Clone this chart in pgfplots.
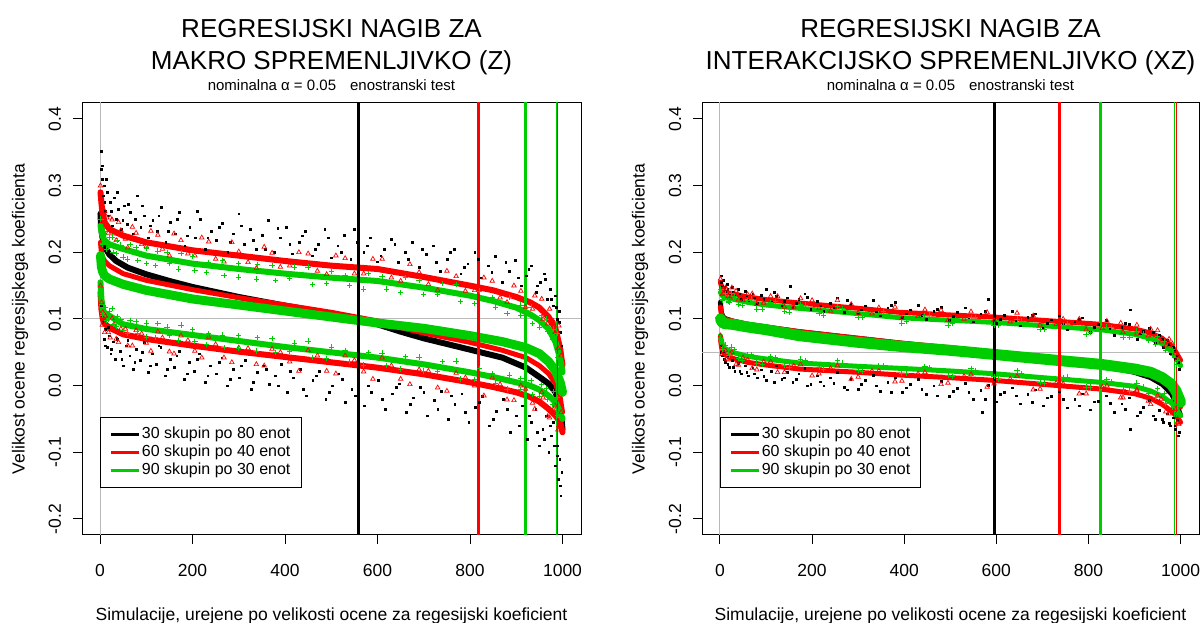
\documentclass[border=0pt]{standalone}
\usepackage{fontspec}
\setmainfont{Liberation Sans}
\usepackage{pgfplots}
\pgfplotsset{compat=1.18}
\definecolor{rred}{RGB}{255,0,0}
\definecolor{rgreen}{RGB}{0,205,0}
\definecolor{rgray}{RGB}{185,185,185}
\newcommand{\tickfont}{\fontsize{17.5}{20}\selectfont}
\pgfplotsset{
  panel/.style={
    scale only axis, height=432pt,
    xmin=-38.96, xmax=1039.96, ymin=-0.224, ymax=0.424,
    axis line style={black, line width=1pt},
    xtick={0,200,400,600,800,1000}, xticklabels={0,200,400,600,800,1000},
    ytick={-0.2,-0.1,0,0.1,0.2,0.3,0.4}, yticklabels={-0.2,-0.1,0.0,0.1,0.2,0.3,0.4},
    tick align=outside, tick pos=left, major tick length=9pt,
    tick style={black, line width=1pt},
    xticklabel style={font=\tickfont, anchor=base, yshift=-33pt},
    yticklabel style={font=\tickfont, xshift=-12pt, rotate=90, anchor=base},
    legend style={at={(0.036,0.109)}, anchor=south west, draw=black, line width=0.8pt,
      fill=white, font=\fontsize{16}{18}\selectfont, inner xsep=9pt, inner ysep=8pt,
      row sep=0pt, nodes={inner sep=1.5pt, text height=11.5pt, text depth=3.5pt},
      /tikz/every even column/.append style={column sep=9pt}},
    legend image code/.code={\draw[#1] (0pt,0pt) -- (28pt,0pt);},
    legend cell align=left,
  },
  bdot/.style={only marks, mark=square*, mark size=0.9pt, black, forget plot},
  rtri/.style={only marks, mark=triangle, mark size=2.6pt, rred, line width=0.7pt, forget plot},
  gplus/.style={only marks, mark=+, mark size=2.7pt, rgreen, line width=0.9pt, forget plot},
  core/.style={line join=round, line cap=round, forget plot},
  vline/.style={forget plot},
}
\begin{document}
\begin{tikzpicture}
\useasboundingbox (0,0) rectangle (1201pt,623pt);
% ================= LEFT PANEL =================
\begin{axis}[panel, width=499pt, at={(82pt,88pt)}, anchor=south west]
\addplot[rgray, line width=1pt, forget plot] coordinates {(0,-1) (0,1)};
\addplot[rgray, line width=1pt, forget plot] coordinates {(-100,0.1) (1100,0.1)};
% black upper
\addplot[bdot] coordinates {(2,0.352) (3,0.325) (5,0.31) (7,0.285) (9,0.3) (12,0.262) (15,0.29) (18,0.255) (22,0.275) (26,0.24) (30,0.282) (35,0.25) (40,0.265) (46,0.235) (52,0.27) (58,0.242) (65,0.26) (72,0.228) (80,0.285) (88,0.238) (96,0.255) (105,0.222) (114,0.248) (123,0.232) (132,0.268) (142,0.215) (152,0.245) (162,0.228) (172,0.26) (183,0.21) (194,0.238) (205,0.222) (216,0.25) (228,0.205) (240,0.232) (252,0.218) (264,0.244) (276,0.2) (288,0.228) (300,0.258) (312,0.212) (325,0.235) (338,0.205) (351,0.226) (364,0.248) (377,0.2) (390,0.222) (403,0.238) (416,0.198) (430,0.215) (444,0.232) (458,0.195) (472,0.212) (486,0.235) (500,0.192) (514,0.21) (528,0.226) (542,0.19) (556,0.215) (570,0.2) (585,0.222) (600,0.186) (615,0.205) (630,0.22) (645,0.185) (660,0.2) (675,0.215) (690,0.178) (705,0.197) (720,0.21) (735,0.172) (750,0.19) (765,0.205) (780,0.168) (795,0.183) (810,0.2) (825,0.162) (840,0.18) (855,0.194) (870,0.155) (885,0.172) (898,0.188) (910,0.15) (922,0.165) (933,0.18) (943,0.14) (952,0.155) (960,0.168) (967,0.13) (973,0.145) (979,0.12) (984,0.135) (988,0.1) (992,0.112) (995,0.08) (998,0.06)};
\addplot[bdot] coordinates {(4,0.33) (10,0.275) (14,0.31) (24,0.262) (37,0.29) (49,0.248) (61,0.272) (76,0.25) (92,0.27) (109,0.24) (127,0.255) (147,0.232) (167,0.25) (188,0.225) (210,0.262) (233,0.222) (258,0.238) (282,0.215) (306,0.24) (331,0.218) (357,0.205) (384,0.236) (410,0.212) (437,0.225) (465,0.205) (493,0.222) (521,0.2) (549,0.235) (577,0.21) (607,0.195) (637,0.212) (667,0.19) (697,0.205) (727,0.185) (757,0.2) (787,0.178) (817,0.19) (847,0.17) (877,0.185) (904,0.162) (927,0.175) (946,0.15) (963,0.16) (976,0.13) (986,0.118) (993,0.095)};
% black lower
\addplot[bdot] coordinates {(3,0.12) (6,0.095) (9,0.07) (12,0.085) (15,0.058) (19,0.075) (23,0.048) (28,0.066) (33,0.04) (38,0.07) (44,0.052) (50,0.03) (57,0.06) (64,0.045) (71,0.025) (79,0.055) (87,0.038) (95,0.065) (104,0.02) (113,0.048) (122,0.032) (131,0.058) (141,0.015) (151,0.04) (161,0.028) (171,0.052) (182,0.01) (193,0.035) (204,0.022) (215,0.048) (227,0.005) (239,0.03) (251,0.018) (263,0.042) (275,0.0) (288,0.025) (301,0.012) (314,0.038) (327,-0.005) (340,0.02) (353,0.03) (366,0.002) (379,0.015) (392,0.032) (405,-0.01) (418,0.012) (432,0.025) (446,-0.015) (460,0.008) (474,0.022) (488,-0.02) (502,0.0) (516,0.018) (530,-0.025) (544,-0.005) (558,0.012) (572,-0.03) (587,-0.01) (602,0.008) (617,-0.035) (632,-0.012) (647,0.003) (662,-0.04) (677,-0.018) (692,-0.002) (707,-0.045) (722,-0.022) (737,-0.008) (752,-0.05) (767,-0.028) (782,-0.012) (797,-0.055) (812,-0.032) (827,-0.016) (842,-0.06) (857,-0.038) (872,-0.02) (887,-0.07) (900,-0.045) (912,-0.03) (923,-0.08) (933,-0.055) (942,-0.035) (950,-0.09) (957,-0.065) (964,-0.045) (970,-0.1) (975,-0.075) (980,-0.055) (984,-0.12) (988,-0.09) (991,-0.14) (994,-0.11) (996,-0.165) (998,-0.13)};
\addplot[bdot] coordinates {(5,0.105) (11,0.06) (17,0.088) (25,0.055) (36,0.072) (47,0.04) (60,0.068) (75,0.035) (91,0.05) (108,0.03) (127,0.06) (146,0.025) (166,0.045) (188,0.018) (210,0.04) (233,0.015) (257,0.035) (281,0.01) (306,0.03) (332,0.005) (359,0.025) (386,0.0) (412,0.022) (439,-0.005) (467,0.015) (495,-0.01) (523,0.01) (551,-0.015) (580,0.0) (610,-0.02) (640,-0.002) (670,-0.028) (700,-0.01) (730,-0.035) (760,-0.015) (790,-0.04) (820,-0.025) (850,-0.05) (880,-0.035) (906,-0.06) (928,-0.045) (946,-0.07) (961,-0.08) (973,-0.06) (982,-0.09) (989,-0.105) (995,-0.15)};
% black estimate
\addplot[core, black, line width=6pt] coordinates {(1,0.258) (2,0.242) (4,0.228) (7,0.216) (12,0.206) (20,0.197) (35,0.187) (60,0.177) (100,0.167) (150,0.157) (200,0.148) (300,0.133) (400,0.12) (500,0.108) (600,0.092) (650,0.081) (700,0.071) (800,0.054) (870,0.042) (921,0.027) (950,0.013) (970,0.003) (985,-0.01) (993,-0.03) (998,-0.05) (1000,-0.066)};
% red bands
\addplot[core, rred, line width=6pt] coordinates {(1,0.29) (5,0.26) (10,0.245) (20,0.235) (50,0.225) (100,0.215) (200,0.203) (300,0.195) (400,0.187) (500,0.18) (600,0.175) (700,0.163) (800,0.15) (850,0.143) (900,0.133) (930,0.125) (950,0.117) (970,0.103) (985,0.085) (995,0.055) (1000,0.03)};
\addplot[core, rred, line width=6pt] coordinates {(1,0.14) (3,0.115) (6,0.1) (10,0.093) (20,0.087) (50,0.077) (100,0.07) (200,0.06) (300,0.051) (400,0.043) (500,0.035) (600,0.027) (700,0.017) (800,0.005) (850,-0.002) (900,-0.01) (930,-0.017) (950,-0.024) (970,-0.035) (985,-0.045) (995,-0.055) (1000,-0.07)};
\addplot[rtri] coordinates {(1,0.30) (3,0.275) (6,0.255) (10,0.262) (15,0.238) (22,0.252) (30,0.228) (40,0.245) (55,0.22) (70,0.238) (90,0.212) (110,0.232) (135,0.205) (160,0.228) (190,0.198) (220,0.222) (250,0.19) (285,0.215) (320,0.185) (355,0.208) (390,0.178) (430,0.2) (470,0.172) (510,0.195) (550,0.168) (590,0.19) (630,0.162) (670,0.182) (710,0.152) (750,0.172) (790,0.142) (830,0.162) (865,0.132) (895,0.15) (920,0.118) (940,0.135) (958,0.1) (972,0.115) (984,0.08) (992,0.09) (997,0.045)};
\addplot[rtri] coordinates {(5,0.246) (12,0.255) (18,0.229) (26,0.249) (35,0.218) (45,0.233) (60,0.207) (78,0.229) (100,0.209) (125,0.226) (150,0.195) (175,0.218) (205,0.195) (235,0.216) (268,0.186) (300,0.201) (338,0.176) (372,0.199) (410,0.18) (450,0.198) (490,0.167) (530,0.191) (570,0.168) (610,0.19) (650,0.157) (690,0.17) (730,0.143) (770,0.164) (810,0.143) (848,0.157) (880,0.125) (910,0.142) (935,0.115) (955,0.13) (968,0.093) (980,0.097) (990,0.056)};
\addplot[rtri] coordinates {(1,0.15) (3,0.125) (6,0.11) (10,0.08) (15,0.1) (22,0.072) (30,0.092) (40,0.065) (55,0.085) (70,0.06) (90,0.078) (110,0.052) (135,0.072) (160,0.048) (190,0.068) (220,0.042) (250,0.062) (285,0.035) (320,0.056) (355,0.03) (390,0.05) (430,0.022) (470,0.045) (510,0.018) (550,0.038) (590,0.01) (630,0.03) (670,0.002) (710,0.022) (750,-0.008) (790,0.012) (830,-0.015) (865,0.002) (895,-0.022) (920,-0.005) (940,-0.035) (958,-0.018) (972,-0.048) (984,-0.03) (992,-0.06) (997,-0.04)};
\addplot[rtri] coordinates {(5,0.091) (12,0.104) (18,0.08) (26,0.101) (35,0.07) (45,0.085) (60,0.06) (78,0.083) (100,0.064) (125,0.081) (150,0.051) (175,0.075) (205,0.052) (235,0.073) (268,0.042) (300,0.057) (338,0.032) (372,0.055) (410,0.036) (450,0.053) (490,0.022) (530,0.045) (570,0.021) (610,0.042) (650,0.01) (690,0.024) (730,-0.003) (770,0.019) (810,0.0) (848,0.012) (880,-0.021) (910,-0.0) (935,-0.026) (955,-0.01) (968,-0.046) (980,-0.036) (990,-0.066)};
\addplot[core, rred, line width=5pt] coordinates {(1,0.215) (3,0.2) (6,0.192) (10,0.187) (20,0.18) (50,0.168) (100,0.158) (200,0.144) (300,0.132) (400,0.121) (500,0.11) (600,0.097) (650,0.087) (700,0.079) (800,0.065) (870,0.053) (921,0.042) (950,0.03) (970,0.018) (985,0.003) (995,-0.018) (1000,-0.04)};
% green bands
\addplot[core, rgreen, line width=6pt] coordinates {(1,0.24) (5,0.225) (10,0.218) (20,0.212) (50,0.205) (100,0.195) (200,0.183) (300,0.175) (400,0.168) (500,0.162) (600,0.157) (700,0.147) (800,0.135) (850,0.127) (900,0.117) (930,0.107) (950,0.098) (970,0.085) (985,0.065) (995,0.04) (1000,0.02)};
\addplot[core, rgreen, line width=6pt] coordinates {(1,0.155) (3,0.13) (6,0.115) (10,0.108) (20,0.105) (50,0.092) (100,0.085) (200,0.076) (300,0.067) (400,0.058) (500,0.05) (600,0.042) (700,0.032) (800,0.02) (850,0.013) (900,0.005) (930,0.0) (950,-0.006) (970,-0.015) (985,-0.025) (995,-0.04) (1000,-0.05)};
\addplot[gplus] coordinates {(2,0.25) (5,0.212) (9,0.232) (14,0.205) (20,0.222) (28,0.2) (38,0.218) (50,0.193) (65,0.212) (82,0.188) (100,0.206) (120,0.18) (145,0.2) (170,0.175) (200,0.194) (230,0.17) (265,0.188) (300,0.163) (340,0.182) (380,0.158) (420,0.178) (460,0.152) (500,0.172) (540,0.15) (580,0.168) (620,0.145) (660,0.162) (700,0.137) (740,0.153) (780,0.126) (820,0.142) (855,0.118) (885,0.132) (910,0.105) (932,0.118) (950,0.088) (965,0.1) (978,0.07) (988,0.078) (995,0.03)};
\addplot[gplus] coordinates {(5,0.213) (12,0.227) (18,0.207) (26,0.223) (35,0.198) (45,0.211) (60,0.19) (78,0.207) (100,0.183) (125,0.202) (150,0.183) (175,0.199) (205,0.173) (235,0.185) (268,0.165) (300,0.183) (338,0.16) (372,0.18) (410,0.161) (450,0.178) (490,0.153) (530,0.165) (570,0.145) (610,0.164) (650,0.14) (690,0.158) (730,0.137) (770,0.152) (810,0.123) (848,0.132) (880,0.108) (910,0.121) (935,0.093) (955,0.105) (968,0.081) (980,0.085) (990,0.043)};
\addplot[gplus] coordinates {(2,0.14) (5,0.108) (9,0.118) (14,0.098) (20,0.112) (28,0.092) (38,0.104) (50,0.083) (65,0.098) (82,0.078) (100,0.094) (120,0.072) (145,0.088) (170,0.068) (200,0.084) (230,0.062) (265,0.076) (300,0.056) (340,0.072) (380,0.05) (420,0.064) (460,0.042) (500,0.058) (540,0.036) (580,0.05) (620,0.03) (660,0.044) (700,0.022) (740,0.036) (780,0.01) (820,0.026) (855,0.004) (885,0.016) (910,-0.006) (932,0.008) (950,-0.016) (965,-0.004) (978,-0.028) (988,-0.018) (995,-0.048)};
\addplot[gplus] coordinates {(5,0.106) (12,0.117) (18,0.099) (26,0.116) (35,0.089) (45,0.099) (60,0.078) (78,0.096) (100,0.073) (125,0.093) (150,0.075) (175,0.091) (205,0.066) (235,0.078) (268,0.057) (300,0.075) (338,0.052) (372,0.071) (410,0.051) (450,0.067) (490,0.041) (530,0.053) (570,0.031) (610,0.049) (650,0.025) (690,0.043) (730,0.022) (770,0.037) (810,0.009) (848,0.018) (880,-0.005) (910,0.011) (935,-0.013) (955,0.002) (968,-0.02) (980,-0.009) (990,-0.044)};
\addplot[core, rgreen, line width=9pt] coordinates {(1,0.195) (3,0.178) (6,0.17) (10,0.165) (20,0.16) (50,0.152) (100,0.143) (200,0.13) (300,0.121) (400,0.112) (500,0.103) (600,0.094) (700,0.086) (800,0.075) (870,0.066) (921,0.057) (950,0.048) (970,0.036) (985,0.022) (995,0.005) (1000,-0.01)};
% vertical lines
\addplot[vline, black, line width=3pt] coordinates {(559,-1) (559,1)};
\addplot[vline, rred, line width=3pt] coordinates {(818,-1) (818,1)};
\addplot[vline, rgreen, line width=3pt] coordinates {(921,-1) (921,1)};
\addplot[vline, rgreen, line width=1.3pt] coordinates {(986.5,-1) (986.5,1)};
\addplot[vline, rred, line width=1.3pt] coordinates {(989.5,-1) (989.5,1)};
\addlegendimage{black, line width=3pt}
\addlegendentry{30 skupin po 80 enot}
\addlegendimage{rred, line width=2.5pt}
\addlegendentry{60 skupin po 40 enot}
\addlegendimage{rgreen, line width=2.5pt}
\addlegendentry{90 skupin po 30 enot}
\end{axis}
% ================= RIGHT PANEL =================
\begin{axis}[panel, width=497pt, at={(702pt,88pt)}, anchor=south west]
\addplot[rgray, line width=1pt, forget plot] coordinates {(0,-1) (0,1)};
\addplot[rgray, line width=1pt, forget plot] coordinates {(-100,0.05) (1100,0.05)};
\addplot[bdot] coordinates {(2,0.165) (4,0.15) (7,0.158) (11,0.142) (15,0.152) (20,0.138) (26,0.148) (32,0.135) (39,0.145) (46,0.13) (54,0.142) (62,0.128) (71,0.138) (80,0.124) (90,0.136) (100,0.145) (111,0.126) (122,0.134) (134,0.12) (146,0.132) (153,0.149) (158,0.118) (171,0.13) (184,0.138) (197,0.115) (211,0.127) (225,0.112) (239,0.124) (254,0.132) (269,0.11) (284,0.122) (300,0.108) (316,0.12) (332,0.128) (348,0.105) (364,0.117) (380,0.125) (396,0.103) (413,0.114) (430,0.121) (447,0.1) (464,0.112) (481,0.118) (498,0.098) (515,0.11) (532,0.117) (549,0.096) (566,0.108) (583,0.13) (600,0.094) (617,0.106) (634,0.112) (651,0.09) (668,0.103) (685,0.108) (702,0.087) (719,0.099) (736,0.105) (753,0.084) (770,0.096) (787,0.102) (804,0.08) (821,0.092) (838,0.098) (855,0.076) (872,0.088) (889,0.092) (891,0.114) (905,0.07) (919,0.082) (932,0.086) (944,0.064) (954,0.076) (963,0.058) (971,0.068) (978,0.048) (984,0.058) (989,0.04) (993,0.045) (997,0.025)};
\addplot[bdot] coordinates {(3,0.155) (9,0.148) (17,0.145) (29,0.14) (43,0.138) (58,0.135) (75,0.132) (95,0.13) (117,0.14) (140,0.127) (165,0.124) (190,0.133) (218,0.12) (247,0.117) (277,0.128) (307,0.114) (340,0.111) (372,0.121) (405,0.108) (438,0.106) (472,0.115) (506,0.104) (540,0.102) (575,0.112) (609,0.1) (643,0.098) (677,0.106) (711,0.094) (745,0.092) (779,0.1) (813,0.088) (847,0.086) (880,0.094) (912,0.078) (940,0.08) (960,0.07) (975,0.062) (987,0.052) (995,0.035)};
\addplot[bdot] coordinates {(2,0.06) (4,0.045) (7,0.052) (11,0.035) (15,0.045) (20,0.028) (26,0.038) (32,0.022) (39,0.034) (46,0.018) (54,0.03) (62,0.015) (71,0.027) (80,0.012) (90,0.024) (100,0.008) (111,0.022) (122,0.03) (134,0.01) (146,0.02) (158,0.005) (171,0.018) (184,0.026) (197,0.002) (211,0.015) (225,0.0) (239,0.012) (254,0.02) (269,-0.002) (284,0.01) (300,-0.005) (316,0.008) (332,0.016) (348,-0.008) (364,0.005) (380,0.012) (396,-0.01) (413,0.002) (430,0.01) (447,-0.013) (464,0.0) (481,0.007) (498,-0.016) (515,-0.004) (532,0.004) (549,-0.02) (566,-0.007) (570,-0.04) (583,0.001) (600,-0.024) (617,-0.01) (634,-0.003) (651,-0.027) (668,-0.013) (685,-0.006) (702,-0.03) (719,-0.016) (736,-0.009) (753,-0.033) (770,-0.02) (787,-0.012) (804,-0.036) (821,-0.023) (838,-0.015) (855,-0.04) (872,-0.027) (889,-0.018) (891,-0.065) (905,-0.045) (919,-0.032) (932,-0.022) (944,-0.05) (954,-0.037) (963,-0.055) (971,-0.042) (978,-0.06) (984,-0.048) (989,-0.065) (993,-0.052) (997,-0.07)};
\addplot[bdot] coordinates {(3,0.05) (9,0.04) (17,0.032) (29,0.028) (43,0.022) (58,0.02) (75,0.018) (95,0.014) (117,0.005) (140,0.012) (165,0.01) (190,0.0) (218,0.006) (247,0.004) (277,-0.006) (307,0.002) (340,0.0) (372,-0.01) (405,-0.003) (438,-0.005) (472,-0.015) (506,-0.008) (540,-0.01) (575,-0.02) (609,-0.013) (643,-0.015) (677,-0.025) (711,-0.018) (745,-0.02) (779,-0.03) (813,-0.024) (847,-0.026) (880,-0.035) (912,-0.04) (940,-0.045) (960,-0.05) (975,-0.056) (987,-0.06) (995,-0.075)};
\addplot[core, black, line width=5pt] coordinates {(1,0.125) (3,0.11) (6,0.104) (10,0.101) (27,0.097) (60,0.092) (100,0.088) (172,0.081) (300,0.071) (390,0.064) (500,0.056) (593,0.049) (700,0.041) (826,0.03) (900,0.02) (935,0.012) (960,0.002) (980,-0.012) (990,-0.025) (1000,-0.045)};
\addplot[core, rred, line width=5pt] coordinates {(1,0.155) (5,0.145) (10,0.14) (27,0.138) (60,0.133) (100,0.129) (172,0.124) (300,0.116) (390,0.11) (500,0.106) (593,0.103) (700,0.098) (826,0.092) (900,0.085) (935,0.079) (960,0.071) (980,0.06) (990,0.05) (1000,0.038)};
\addplot[core, rred, line width=5pt] coordinates {(1,0.07) (3,0.06) (6,0.052) (10,0.047) (27,0.041) (60,0.035) (100,0.031) (172,0.025) (300,0.02) (390,0.016) (500,0.012) (593,0.008) (700,0.002) (826,-0.005) (900,-0.012) (935,-0.019) (960,-0.028) (980,-0.038) (990,-0.045) (1000,-0.055)};
\addplot[rtri] coordinates {(1,0.16) (4,0.148) (8,0.138) (14,0.145) (22,0.132) (35,0.142) (50,0.128) (70,0.138) (95,0.124) (125,0.134) (160,0.118) (200,0.128) (240,0.112) (285,0.122) (330,0.108) (380,0.118) (430,0.104) (480,0.113) (530,0.1) (580,0.11) (630,0.096) (680,0.105) (730,0.092) (780,0.1) (830,0.086) (870,0.094) (905,0.078) (935,0.085) (958,0.066) (975,0.07) (988,0.048) (996,0.04)};
\addplot[rtri] coordinates {(5,0.137) (12,0.147) (18,0.134) (26,0.147) (40,0.129) (60,0.137) (80,0.122) (110,0.134) (140,0.118) (175,0.131) (215,0.116) (255,0.128) (300,0.109) (345,0.117) (395,0.101) (445,0.114) (495,0.098) (545,0.111) (595,0.098) (645,0.109) (695,0.091) (745,0.1) (795,0.084) (840,0.097) (875,0.08) (905,0.091) (930,0.075) (950,0.083) (968,0.06) (982,0.063) (992,0.039)};
\addplot[rtri] coordinates {(1,0.075) (4,0.058) (8,0.05) (14,0.04) (22,0.048) (35,0.032) (50,0.042) (70,0.026) (95,0.036) (125,0.02) (160,0.03) (200,0.015) (240,0.026) (285,0.01) (330,0.022) (380,0.006) (430,0.018) (480,0.002) (530,0.014) (580,-0.002) (630,0.01) (680,-0.006) (730,0.004) (780,-0.012) (830,-0.002) (870,-0.018) (905,-0.008) (935,-0.028) (958,-0.02) (975,-0.042) (988,-0.035) (996,-0.058)};
\addplot[rtri] coordinates {(5,0.047) (12,0.053) (18,0.039) (26,0.05) (40,0.031) (60,0.039) (80,0.024) (110,0.036) (140,0.02) (175,0.032) (215,0.018) (255,0.03) (300,0.013) (345,0.022) (395,0.007) (445,0.02) (495,0.004) (545,0.017) (595,0.003) (645,0.014) (695,-0.005) (745,0.003) (795,-0.012) (840,0.0) (875,-0.018) (905,-0.006) (930,-0.023) (950,-0.015) (968,-0.039) (982,-0.035) (992,-0.056)};
\addplot[core, rred, line width=5pt] coordinates {(1,0.118) (3,0.108) (6,0.102) (10,0.1) (27,0.097) (60,0.092) (100,0.088) (172,0.081) (300,0.071) (390,0.064) (500,0.057) (593,0.05) (700,0.043) (826,0.033) (900,0.024) (935,0.017) (960,0.008) (980,-0.004) (990,-0.015) (1000,-0.032)};
\addplot[core, rgreen, line width=5pt] coordinates {(1,0.14) (5,0.135) (10,0.132) (27,0.13) (60,0.125) (100,0.121) (172,0.116) (300,0.108) (390,0.102) (500,0.098) (593,0.095) (700,0.09) (826,0.084) (900,0.077) (935,0.071) (960,0.063) (980,0.052) (990,0.042) (1000,0.03)};
\addplot[core, rgreen, line width=5pt] coordinates {(1,0.075) (3,0.068) (6,0.06) (10,0.056) (27,0.05) (60,0.044) (100,0.04) (172,0.034) (300,0.029) (390,0.026) (500,0.022) (593,0.018) (700,0.012) (826,0.005) (900,-0.001) (935,-0.008) (960,-0.016) (980,-0.026) (990,-0.034) (1000,-0.045)};
\addplot[gplus] coordinates {(2,0.145) (6,0.13) (12,0.138) (20,0.125) (32,0.134) (48,0.12) (68,0.13) (92,0.115) (120,0.126) (150,0.11) (185,0.121) (225,0.106) (265,0.116) (310,0.102) (355,0.111) (405,0.097) (455,0.106) (505,0.093) (555,0.102) (605,0.09) (655,0.097) (705,0.085) (755,0.093) (805,0.08) (850,0.087) (890,0.072) (920,0.078) (945,0.062) (965,0.066) (982,0.046) (993,0.038)};
\addplot[gplus] coordinates {(5,0.128) (12,0.138) (18,0.127) (26,0.138) (40,0.122) (60,0.128) (80,0.115) (110,0.125) (140,0.111) (175,0.122) (215,0.109) (255,0.119) (300,0.102) (345,0.108) (395,0.094) (445,0.105) (495,0.091) (545,0.102) (595,0.091) (645,0.1) (695,0.084) (745,0.091) (795,0.077) (840,0.088) (875,0.073) (905,0.082) (930,0.068) (950,0.074) (968,0.053) (982,0.054) (992,0.032)};
\addplot[gplus] coordinates {(2,0.07) (6,0.055) (12,0.06) (20,0.045) (32,0.054) (48,0.038) (68,0.047) (92,0.032) (120,0.042) (150,0.028) (185,0.038) (225,0.024) (265,0.034) (310,0.021) (355,0.03) (405,0.018) (455,0.027) (505,0.014) (555,0.023) (605,0.01) (655,0.018) (705,0.004) (755,0.013) (805,-0.002) (850,0.006) (890,-0.008) (920,-0.002) (945,-0.018) (965,-0.012) (982,-0.032) (993,-0.028)};
\addplot[gplus] coordinates {(5,0.055) (12,0.061) (18,0.049) (26,0.058) (40,0.041) (60,0.047) (80,0.034) (110,0.044) (140,0.03) (175,0.04) (215,0.028) (255,0.038) (300,0.023) (345,0.03) (395,0.018) (445,0.029) (495,0.015) (545,0.026) (595,0.014) (645,0.023) (695,0.005) (745,0.012) (795,-0.002) (840,0.009) (875,-0.006) (905,0.004) (930,-0.011) (950,-0.004) (968,-0.026) (982,-0.021) (992,-0.043)};
\addplot[core, rgreen, line width=11pt] coordinates {(1,0.1) (5,0.095) (10,0.093) (27,0.092) (60,0.088) (100,0.084) (172,0.075) (300,0.065) (390,0.059) (500,0.053) (593,0.047) (700,0.04) (826,0.032) (900,0.025) (935,0.02) (960,0.012) (980,0.002) (990,-0.008) (1000,-0.025)};
\addplot[vline, black, line width=3pt] coordinates {(595,-1) (595,1)};
\addplot[vline, rred, line width=3pt] coordinates {(737,-1) (737,1)};
\addplot[vline, rgreen, line width=3pt] coordinates {(826,-1) (826,1)};
\addplot[vline, rgreen, line width=1.3pt] coordinates {(987,-1) (987,1)};
\addplot[vline, rred, line width=1.3pt] coordinates {(991.5,-1) (991.5,1)};
\addlegendimage{black, line width=3pt}
\addlegendentry{30 skupin po 80 enot}
\addlegendimage{rred, line width=2.5pt}
\addlegendentry{60 skupin po 40 enot}
\addlegendimage{rgreen, line width=2.5pt}
\addlegendentry{90 skupin po 30 enot}
\end{axis}
% ================= TEXT =================
\node[anchor=base, font=\fontsize{26}{30}\selectfont] at (331.5pt,585pt) {REGRESIJSKI NAGIB ZA};
\node[anchor=base, font=\fontsize{26}{30}\selectfont] at (331.5pt,553pt) {MAKRO SPREMENLJIVKO (Z)};
\node[anchor=base, font=\fontsize{15}{17}\selectfont] at (331.5pt,532pt) {nominalna α = 0.05\hspace{14pt}enostranski test};
\node[anchor=base, font=\fontsize{26}{30}\selectfont] at (950.5pt,585pt) {REGRESIJSKI NAGIB ZA};
\node[anchor=base, font=\fontsize{26}{30}\selectfont] at (950.5pt,553pt) {INTERAKCIJSKO SPREMENLJIVKO (XZ)};
\node[anchor=base, font=\fontsize{15}{17}\selectfont] at (950.5pt,532pt) {nominalna α = 0.05\hspace{14pt}enostranski test};
\node[anchor=base, font=\fontsize{17.5}{20}\selectfont] at (331.5pt,2.3pt) {Simulacije, urejene po velikosti ocene za regesijski koeficient};
\node[anchor=base, font=\fontsize{17.5}{20}\selectfont] at (950.5pt,2.3pt) {Simulacije, urejene po velikosti ocene za regesijski koeficient};
\node[anchor=base, rotate=90, font=\fontsize{17.5}{20}\selectfont] at (24.7pt,304pt) {Velikost ocene regresijskega koeficienta};
\node[anchor=base, rotate=90, font=\fontsize{17.5}{20}\selectfont] at (644.7pt,304pt) {Velikost ocene regresijskega koeficienta};
\end{tikzpicture}
\end{document}
